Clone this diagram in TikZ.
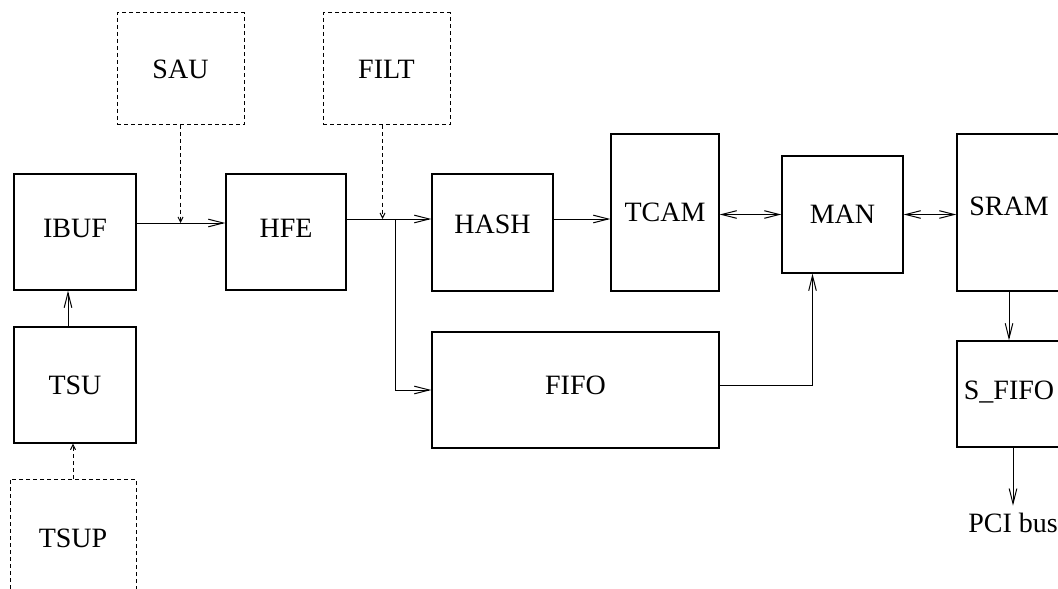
\documentclass[tikz,border=0pt]{standalone}
\usepackage{fontspec}
\setmainfont{Liberation Serif}
\usepackage{tikz}
\usetikzlibrary{positioning,arrows.meta}

\begin{document}
\begin{tikzpicture}[
    x=0.5pt, y=-0.5pt,
    font=\fontsize{14}{16}\selectfont,
    blk/.style={draw, line width=0.65pt, inner sep=0pt, align=center},
    optblk/.style={blk, line width=0.5pt, dash pattern=on 2pt off 1.5pt},
    arr/.style={-{Straight Barb[length=7.5pt, width=3.8pt]}, line width=0.5pt},
    darr/.style={<->, >={Straight Barb[length=7.5pt, width=3.8pt]}, line width=0.5pt},
    optarr/.style={-{Straight Barb[length=2.5pt, width=2.5pt]}, line width=0.5pt, dash pattern=on 2pt off 1.5pt}
]
\useasboundingbox (0,0) rectangle (1058,588);
\clip (0,0) rectangle (1058,588);

% Input side
\node[blk, minimum width=61pt, minimum height=58pt, text depth=4pt] (ibuf) at (75,232) {IBUF};
\node[blk, minimum width=61pt, minimum height=58pt] (tsu) at (75,385) {TSU};
\node[optblk, minimum width=63pt, minimum height=59pt] (tsup) at (73,538) {TSUP};

% Optional units on top
\node[optblk, minimum width=63.5pt, minimum height=56pt] (sau) at (180.5,69) {SAU};
\node[optblk, minimum width=63.5pt, minimum height=56pt] (filt) at (386.5,69) {FILT};

% Pipeline
\node[blk, minimum width=60pt, minimum height=58pt, text depth=4pt] (hfe) at (286,232) {HFE};
\node[blk, minimum width=60.5pt, minimum height=58.5pt, text depth=8pt] (hash) at (492.5,232.5) {HASH};
\node[blk, minimum width=54pt, minimum height=78.5pt] (tcam) at (665,212.5) {TCAM};
\node[blk, minimum width=60.5pt, minimum height=58.5pt] (man) at (842.5,214.5) {MAN};
\node[blk, minimum width=143.5pt, minimum height=58pt, text depth=5pt] (fifo) at (575.5,390) {FIFO};

% Output side
\node[blk, minimum width=52pt, minimum height=78.5pt, text depth=6pt] (sram) at (1009,212.5) {SRAM};
\node[blk, minimum width=52pt, minimum height=53pt, text depth=4pt] (sfifo) at (1009,394) {S\_FIFO};
\node[below=29pt of sfifo, xshift=2pt] (pci) {PCI bus};

% Arrows
\draw[arr] ([xshift=-3.5pt]tsu.north) -- ([xshift=-3.5pt]ibuf.south);
\draw[optarr] (tsup.north) -- (tsup.north |- tsu.south);
\draw[arr] ([yshift=4.5pt]ibuf.east) -- coordinate[pos=0.5] (sauj) ([yshift=4.5pt]hfe.west);
\draw[optarr] (sau.south) -- (sau.south |- sauj);
\draw[arr] ([yshift=6.5pt]hfe.east) -- coordinate[pos=0.58] (br) ([yshift=6.75pt]hash.west);
\draw[optarr] ([xshift=-2pt]filt.south) -- ([xshift=-2pt]filt.south |- br);
\draw[arr] (br) |- (fifo.west);
\draw[arr] ([yshift=6.75pt]hash.east) coordinate (h1) -- (h1 -| tcam.west);
\draw[darr] (tcam.east |- man.west) -- (man.west);
\draw[darr] (man.east) -- (man.east -| sram.west);
\draw[arr] ([yshift=2.5pt]fifo.east) -| ([xshift=-15pt]man.south);
\draw[arr] (sram.south) -- (sfifo.north);
\draw[arr] (pci.north |- sfifo.south) -- (pci.north);

\end{tikzpicture}
\end{document}
